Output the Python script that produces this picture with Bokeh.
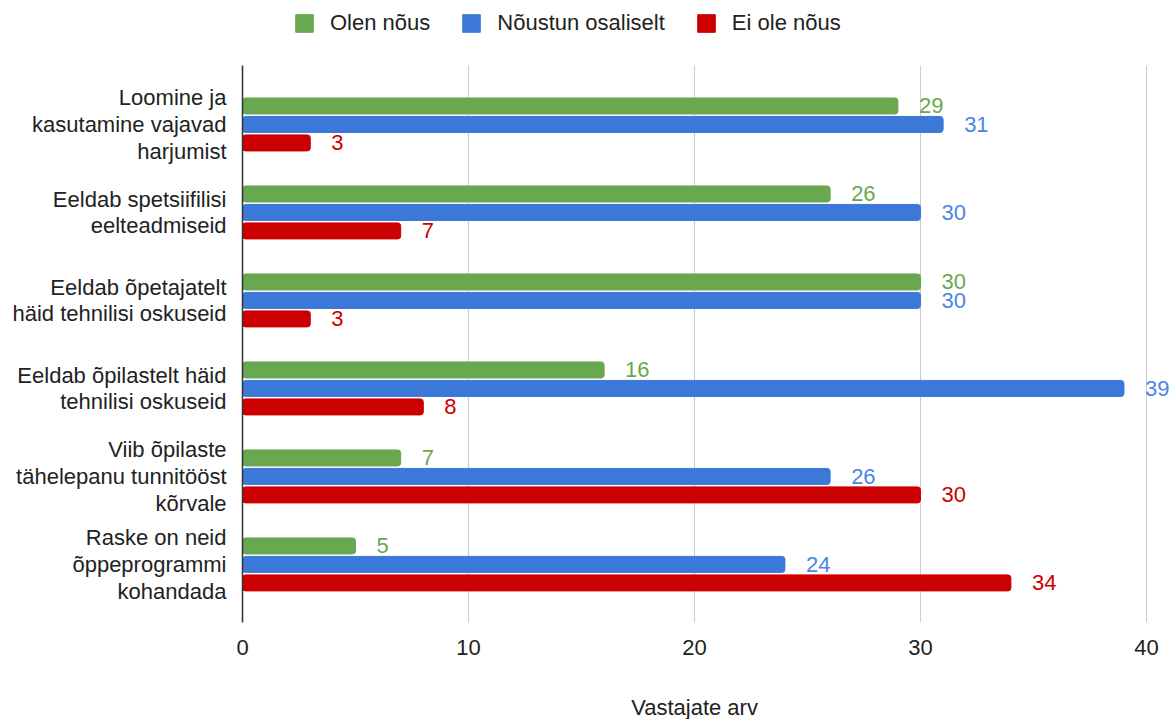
from bokeh.plotting import figure
from bokeh.layouts import column
from bokeh.models import ColumnDataSource, LabelSet, Label, Legend, LegendItem, FixedTicker, Range1d
from bokeh.core.properties import value
from bokeh.embed import file_html
from bokeh.resources import INLINE

categories = [
    "Loomine ja\nkasutamine vajavad\nharjumist",
    "Eeldab spetsiifilisi\neelteadmiseid",
    "Eeldab õpetajatelt\nhäid tehnilisi oskuseid",
    "Eeldab õpilastelt häid\ntehnilisi oskuseid",
    "Viib õpilaste\ntähelepanu tunnitööst\nkõrvale",
    "Raske on neid\nõppeprogrammi\nkohandada",
]
series_names = ["Olen nõus", "Nõustun osaliselt", "Ei ole nõus"]
olen_nous = [29, 26, 30, 16, 7, 5]
noustun_osaliselt = [31, 30, 30, 39, 26, 24]
ei_ole_nous = [3, 7, 3, 8, 30, 34]
x_ticks = [0, 10, 20, 30, 40]
x_title = "Vastajate arv"
colors = ["#6aa84f", "#3c78d8", "#cc0000"]
text_colors = ["#6aa84f", "#4a86e8", "#cc0000"]

FONT = "Liberation Sans"
FS = "22px"
W = 1170
n = len(categories)
ypos = [n - 1 - i for i in range(n)]
offsets = [0.21, 0.0, -0.21]
series = [olen_nous, noustun_osaliselt, ei_ole_nous]
x_max = 41.06

# ---- main chart ----
p = figure(width=W, height=607, output_backend="svg", toolbar_location=None,
           x_range=Range1d(0, x_max), y_range=Range1d(-0.66, n - 1 + 0.67),
           min_border_left=242, min_border_right=0, min_border_top=0, min_border_bottom=50)
p.outline_line_color = None

for vals, off, col, tcol in zip(series, offsets, colors, text_colors):
    src = ColumnDataSource(dict(y=[v + off for v in ypos], x=vals, lab=[str(v) for v in vals]))
    p.hbar(y="y", right="x", left=0, height=0.182, source=src, fill_color=col,
           line_color=col, border_radius=3)
    p.add_layout(LabelSet(x="x", y="y", text="lab", source=src, x_offset=21, y_offset=0,
                          text_baseline="middle", text_align="left", text_color=tcol,
                          text_font=value(FONT), text_font_size=FS))

p.xaxis.ticker = FixedTicker(ticks=x_ticks)
p.xaxis.axis_line_color = None
p.xaxis.major_tick_line_color = None
p.xaxis.minor_tick_line_color = None
p.xaxis.major_label_text_font = FONT
p.xaxis.major_label_text_font_size = FS
p.xaxis.major_label_text_color = "#222222"
p.xaxis.major_label_standoff = 11

p.yaxis.ticker = FixedTicker(ticks=ypos)
p.yaxis.major_label_overrides = {y: c for y, c in zip(ypos, categories)}
p.yaxis.axis_line_color = "#333333"
p.yaxis.axis_line_width = 1.5
p.yaxis.major_tick_line_color = None
p.yaxis.minor_tick_line_color = None
p.yaxis.major_label_text_font = FONT
p.yaxis.major_label_text_font_size = FS
p.yaxis.major_label_text_color = "#222222"
p.yaxis.major_label_standoff = 10
p.yaxis.major_label_text_line_height = 1.07

p.xgrid.grid_line_color = "#cccccc"
p.xgrid.ticker = FixedTicker(ticks=x_ticks)
p.ygrid.grid_line_color = None

# ---- legend strip (same series, drawn out of view; only the legend shows) ----
lg = figure(width=W, height=65, output_backend="svg", toolbar_location=None,
            x_range=Range1d(0, x_max), y_range=Range1d(100, 101),
            min_border_left=0, min_border_right=0, min_border_top=0, min_border_bottom=0)
lg.outline_line_color = None
lg.axis.visible = False
lg.grid.grid_line_color = None
items = []
for vals, col, name in zip(series, colors, series_names):
    r = lg.hbar(y=ypos, right=vals, left=0, height=0.182, fill_color=col, line_color=col)
    items.append(LegendItem(label=name, renderers=[r]))
legend = Legend(items=items, orientation="horizontal", location=(51, 29),
                label_text_font=FONT, label_text_font_size=FS,
                label_text_color="#222222", glyph_width=22, glyph_height=22,
                label_standoff=15, spacing=30, border_line_color=None,
                background_fill_alpha=0, margin=0, padding=0)
lg.add_layout(legend, "center")

# ---- x axis title strip ----
tb = figure(width=W, height=47, output_backend="svg", toolbar_location=None,
            x_range=Range1d(0, x_max), y_range=Range1d(0, 1),
            min_border_left=0, min_border_right=0, min_border_top=0, min_border_bottom=0)
tb.outline_line_color = None
tb.axis.visible = False
tb.grid.grid_line_color = None
tb.add_layout(Label(x=x_ticks[-1] / 2, y=12, y_units="screen", text=x_title,
                    text_align="center", text_baseline="middle", text_font=FONT,
                    text_font_size=FS, text_color="#222222"))

layout = column(lg, p, tb, spacing=0)
open("out.html", "w").write(file_html(layout, INLINE))
